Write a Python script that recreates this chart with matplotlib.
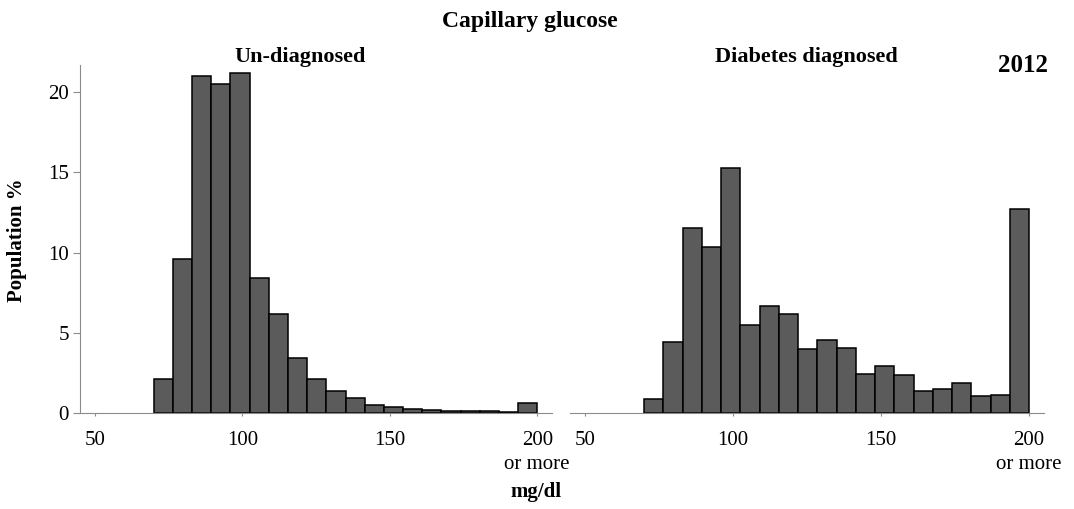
import numpy as np
import matplotlib.pyplot as plt

# 20 bins of 6.5 mg/dl from 70 to 200 (last bin = 200 or more)
bin_edges = np.linspace(70, 200, 21)

undiagnosed = [2.1, 9.6, 21.0, 20.5, 21.2, 8.4, 6.2, 3.4, 2.1, 1.35,
               0.96, 0.52, 0.37, 0.27, 0.18, 0.15, 0.13, 0.1, 0.08, 0.62]
diagnosed = [0.9, 4.45, 11.55, 10.35, 15.25, 5.5, 6.7, 6.15, 4.0, 4.55,
             4.05, 2.45, 2.95, 2.4, 1.35, 1.5, 1.9, 1.05, 1.15, 12.75]

panel_titles = ["Un-diagnosed", "Diabetes diagnosed"]
xtick_vals = [50, 100, 150, 200]
xtick_labels = ["50", "100", "150", "200\nor more"]
ytick_vals = [0, 5, 10, 15, 20]

plt.rcParams['font.family'] = ['Liberation Serif', 'DejaVu Serif']

fig = plt.figure(figsize=(10.74, 5.09), dpi=100)
W, H = 1074, 509

def px_axes(x0, x1, y_top, y_bot):
    return fig.add_axes([x0 / W, 1 - y_bot / H, (x1 - x0) / W, (y_bot - y_top) / H])

ax_left = px_axes(80, 552, 65, 413)
ax_right = px_axes(570, 1044, 65, 413)

spine_col = '#8c8c8c'
for ax, vals in [(ax_left, undiagnosed), (ax_right, diagnosed)]:
    ax.bar(bin_edges[:-1], vals, width=np.diff(bin_edges), align='edge',
           color='#5b5b5b', edgecolor='black', linewidth=1.1)
    ax.set_xlim(45, 205)
    ax.set_ylim(0, 21.7)
    ax.set_xticks(xtick_vals)
    ax.set_xticklabels(xtick_labels, fontsize=15, linespacing=1.35)
    ax.tick_params(axis='x', length=2, color=spine_col, pad=11)
    for s in ['top', 'right']:
        ax.spines[s].set_visible(False)
    ax.spines['bottom'].set_color(spine_col)
    ax.spines['left'].set_color(spine_col)

ax_left.set_yticks(ytick_vals)
ax_left.set_yticklabels([str(v) for v in ytick_vals], fontsize=15)
ax_left.tick_params(axis='y', length=5, color=spine_col, pad=3)

ax_right.spines['left'].set_visible(False)
ax_right.set_yticks([])

fig.text(300 / W, 1 - 57 / H, panel_titles[0], ha='center', va='center',
         fontsize=16, fontweight='bold')
fig.text(806 / W, 1 - 57 / H, panel_titles[1], ha='center', va='center',
         fontsize=16, fontweight='bold')
fig.text(1023 / W, 1 - 66 / H, "2012", ha='center', va='center',
         fontsize=18, fontweight='bold')
fig.text(530 / W, 1 - 22 / H, "Capillary glucose", ha='center', va='center',
         fontsize=17, fontweight='bold')
fig.text(17 / W, 1 - 240 / H, "Population %", ha='center', va='center',
         rotation=90, fontsize=15, fontweight='bold')
fig.text(536 / W, 1 - 492 / H, "mg/dl", ha='center', va='center',
         fontsize=15, fontweight='bold')

fig.savefig('out.png', dpi=100)
